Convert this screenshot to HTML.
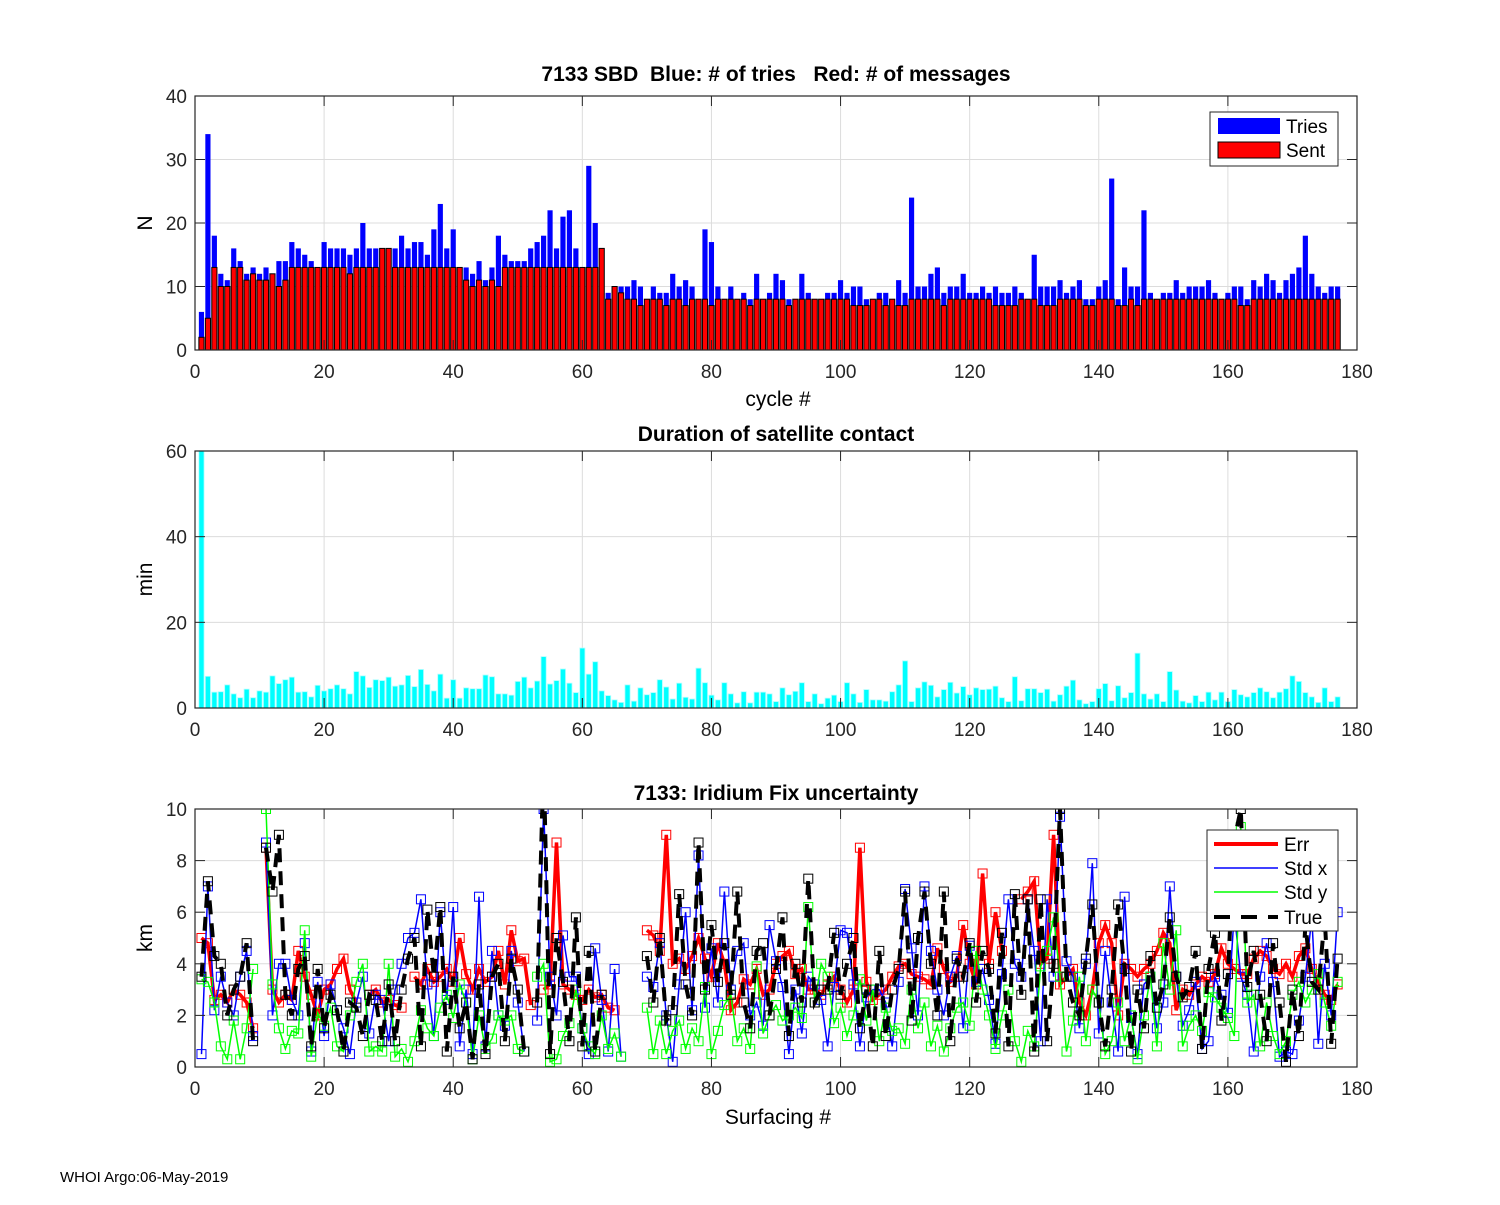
<!DOCTYPE html>
<html><head><meta charset="utf-8"><style>
body{margin:0;background:#fff;}
svg text{font-family:"Liberation Sans",Arial,sans-serif;white-space:pre;}
</style></head><body>
<svg id="fig" width="1500" height="1200" xmlns="http://www.w3.org/2000/svg">
<rect width="1500" height="1200" fill="#fff"/>
<g id="p1"></g>
<g id="p2"></g>
<g id="p3"></g>
<text x="60" y="1182" font-size="15">WHOI Argo:06-May-2019</text>
</svg>
<script>
const tries=[6,34,18,12,11,16,14,12,13,12,13,12,14,14,17,16,15,14,13,17,16,16,16,15,16,20,16,16,16,16,16,18,16,17,17,15,19,23,16,19,13,13,12,14,11,13,18,15,14,14,14,16,17,18,22,16,21,22,16,13,29,20,16,9,9,10,10,11,10,8,10,9,9,12,10,11,10,8,19,17,10,8,10,7,9,8,12,8,9,12,11,8,8,12,9,8,8,9,9,11,9,10,10,8,8,9,9,8,11,9,24,10,10,12,13,9,10,10,12,9,9,10,9,10,9,9,10,9,8,15,10,10,10,11,9,10,11,8,8,10,11,27,8,13,10,10,22,9,8,9,9,11,9,10,10,10,11,9,8,9,10,10,8,11,10,12,11,9,11,12,13,18,12,10,9,10,10];
const sent=[2,5,13,10,10,13,13,11,12,11,11,12,10,11,13,13,13,13,13,13,13,13,13,12,13,13,13,13,16,16,13,13,13,13,13,13,13,13,13,13,13,11,10,11,10,11,10,13,13,13,13,13,13,13,13,13,13,13,13,13,13,13,16,8,10,9,8,8,7,8,8,8,7,8,8,7,8,8,8,7,8,8,8,8,8,7,8,8,8,8,8,7,8,8,8,8,8,8,8,8,8,7,7,7,8,8,7,8,7,7,8,8,8,8,8,7,8,8,8,8,8,8,8,7,7,7,7,8,8,8,7,7,7,8,8,8,8,7,7,8,8,8,7,7,8,7,8,8,8,8,8,8,8,8,8,8,8,8,8,8,8,7,7,8,8,8,8,8,8,8,8,8,8,8,8,8,8];
const dur=[60,7.4,3.7,3.8,5.4,3.3,2.4,4.4,2.4,4,3.7,7.5,5.7,6.6,7.2,3.7,3.8,2.6,5.3,4,4.5,5.4,4.5,3.3,8.5,7.5,4.8,6.6,6.4,7.2,5.1,5.4,7.6,5,9,5.5,4,7.9,2.3,6.6,2.3,4.7,4.5,4.5,7.7,7.3,3.3,3.3,3,6.2,7.2,4.7,6.3,12,5.6,6.4,9.1,5.8,3.6,14,7.9,10.8,4,2.9,1.9,1.3,5.4,1.6,4.7,3.1,3.6,6.6,4.9,2.1,5.8,2.5,2.1,9.3,5.9,3,1.9,5.9,3.3,1.2,3.8,1.2,3.7,3.7,3.3,1.5,4.7,3.1,3.9,5.9,1.5,3.3,1,2.3,3,1.5,5.9,3.3,1.3,4.3,1.9,1.9,1.6,3.8,5.4,11,1.5,4.7,6.1,5.3,2.6,4.3,6,3.5,5,3.1,4.7,4.3,4.4,5.1,2.4,1.5,7.3,1.7,4.5,4.5,3.6,4.4,1.6,3.1,5.1,6.5,1.9,1,1.5,4.5,5.7,1.7,5.2,2.4,3.6,12.8,3.3,2.1,3.3,1.5,8.5,4.2,1.6,1.2,2.9,1.5,3.7,1.9,3.7,1.5,4.3,3.1,2.6,3.6,4.7,3.8,2.4,3.7,4.5,7.5,6.2,3.6,2.6,1.3,4.7,1.5,2.6];
const N=null;
const errKm=[5,4.8,2.6,2.8,2.5,3,2.8,2.5,1.5,N,8.5,3,2.5,2.8,2.6,4.5,3.5,2.8,2,3,3.2,3.8,4.2,3,2.5,N,2.8,3,2.5,2.6,2.4,2.3,N,3.5,3.2,3.8,3.3,3.5,3.8,3.3,5,3.6,3,3.8,3.3,3.5,4.5,3.2,5.3,4.1,4.2,2.4,N,3,3.2,8.7,3.2,3,2.8,2.6,3,2.7,2.8,2.3,2.2,N,N,N,N,5.3,5.1,4.5,9,4,4.2,3.8,4.3,5,4.2,3.5,4.8,4,2.2,2.5,3.4,3.2,3.8,2.8,3,4,4.3,4.5,3.6,3.8,3,3,2.8,3.2,3.5,3,2.5,3,8.5,3.3,2.6,2.8,3,3.5,3.9,4,3.6,3.5,3.4,3.2,4.6,3.8,3.3,3.5,5.5,4,3.2,7.5,4,6,4.5,N,N,6.5,6.8,7.2,4,4.2,9,3.2,3.5,3.8,2.5,2,3,4.8,5.5,4.8,2,4,3.8,3.5,3.8,4,4.5,5.2,4.8,2.2,3,2.8,3.2,3.5,3.3,3.6,4.6,4,3.8,3.6,3.6,4.2,4.5,4.3,3.8,3.6,4,3.5,4.3,4.6,3.8,3.3,2.8,2.6,3.2];
const stdX=[0.5,7,2.2,3.5,2.5,2,3.5,4.5,1.2,N,8.7,2,4,4,2.6,2,4.8,0.6,3.3,1.2,3.2,2.2,1.5,0.5,2.5,3.5,1.3,2.8,2.6,1,3,4,5,5.2,6.5,3.2,1.2,6,2.6,6.2,0.8,3,0.5,6.6,0.8,4.5,2,1.6,4.5,2.5,0.6,N,1.8,10,3.5,2,5.1,3.5,3.5,1.5,0.5,4.6,2.6,0.6,3.8,0.4,N,N,N,3.5,3.1,4.8,2,0.2,3.2,6,2.2,8.2,2.3,4.6,2.5,6.8,3,4.5,4.8,2,2.5,1.6,5.5,4.1,3.1,0.5,3,1.3,3.5,3.2,2.6,0.8,3.1,5.3,5.2,3.2,0.8,2.7,3,3,2.5,0.8,3.3,6.9,4.6,2,7,4.5,3,2,3.5,4.3,1.5,4.7,3.3,3.8,2.6,0.9,3.6,6.5,4,3.5,6.5,4.5,1,6.5,3.5,9.7,4.1,3.5,1.5,4,7.9,1.3,4.5,2.5,0.6,6.6,1.9,0.5,3.2,3.5,1.5,2.5,7,3.5,1.6,2.2,3.3,0.7,1,3.5,2.8,2.1,6,3.5,2.8,0.6,3.5,4.8,3.3,0.4,0.6,0.5,1.8,3.5,5.8,0.9,4,2,6];
const stdY=[3.4,3.3,2.5,0.8,0.3,1.8,0.3,1.5,3.8,N,10,3.2,1.5,0.7,1.4,1.3,5.3,0.4,2.1,1.6,2.3,0.8,0.6,2,3.3,4,0.6,0.8,0.6,4,0.4,0.7,0.2,1,2.2,1.5,1.2,2.3,2.8,1.9,3.2,2.5,0.3,2,0.7,1.1,2,1.8,2,0.7,0.6,N,3.5,4,0.2,0.3,1.2,1.7,3,1.5,0.8,0.5,2,0.7,1.3,0.4,N,N,N,2.3,0.5,1.8,0.5,1.4,1.8,0.7,1.5,1,3.1,0.5,1.4,2.4,2.8,1,1.5,0.7,3.9,1.3,2,2.4,1.8,2,2.3,1.9,6.2,2.5,4,3.5,1.7,2.3,1.2,2,3.4,1.8,3,1,2.3,1.4,1.5,0.9,3,1.5,2.5,0.8,1.6,0.6,1.5,2.3,2.5,1.6,4.5,3,2,0.7,2,3,1,0.2,1.4,0.8,3.9,4.5,5.8,3.5,0.6,1.8,3.5,1,3,2.5,0.5,1,2.5,1,2,0.3,2,3.5,0.8,4.8,3,5.3,0.8,1.6,2,1.4,2.9,2.7,2.3,1.9,1.2,9.3,2.5,2.8,0.8,2.5,1.2,0.5,1,2.8,3.3,2.5,3,3.6,2.5,1.6,3.3];
const trueKm=[3.5,7.2,4.3,4,2,3,3.5,4.8,1,N,8.5,6.8,9,2.8,2,3.8,4.3,0.8,3.8,1.5,2.8,2.2,0.6,2.5,2.3,1.2,2.8,2.6,1,3.2,1,3,4.2,5,0.8,6.1,3.5,6.2,0.6,3.5,1.5,2.5,0.3,3.2,0.5,3.5,4,1,4.2,3,0.6,N,2.5,12,0.5,5,3.3,1,5.8,0.8,4.5,0.6,2.8,N,N,N,N,N,N,4.3,2.5,5,1.8,2.2,6.7,3.2,2,8.7,3,5.5,3.3,4.8,2.8,6.8,2.5,1.5,4.5,4.8,2,3.8,5.8,1.2,4,2.5,7.3,2.5,3,3,5.2,2.8,4,5,1.5,3,0.8,4.5,1.2,3,3.8,6.8,1.8,5,6.8,4,2,6.8,1,4.2,3.5,4.8,2.5,4.5,3.8,1.3,5.2,0.8,6.7,2.8,6.5,0.6,6.5,1,4,10,3.5,2.5,2,4.2,6.3,2.5,0.8,3,6.3,3.8,0.6,3,1.5,4.3,2.3,3.2,5.8,3.5,2.7,3.1,4.5,0.7,3.8,5.2,1.8,3.6,8.8,10,3.1,4.5,2.8,1,4.8,2.5,0.2,3,1.2,5.5,3.3,3,5.8,0.9,4.2];
const xTicks=[0,20,40,60,80,100,120,140,160,180];
const yTicks1=[0,10,20,30,40];
const yTicks2=[0,20,40,60];
const yTicks3=[0,2,4,6,8,10];

const NS='http://www.w3.org/2000/svg';
function mk(parent,tag,attrs,txt){const e=document.createElementNS(NS,tag);for(const k in attrs)e.setAttribute(k,attrs[k]);if(txt!==undefined)e.textContent=txt;parent.appendChild(e);return e;}
const X0=195,X1=1357;
const sx=v=>X0+(v/180)*(X1-X0);
function axes(g,top,bot,ymax,yt,title,titleY,ylabel,xlabel,xlabY,clipId){
  const sy=v=>bot-(v/ymax)*(bot-top);
  for(const t of xTicks){const l=mk(g,'line',{x1:sx(t),x2:sx(t),y1:top,y2:bot,stroke:'#dcdcdc','stroke-width':1});}
  for(const t of yt){const l=mk(g,'line',{x1:X0,x2:X1,y1:sy(t),y2:sy(t),stroke:'#dcdcdc','stroke-width':1});}
  mk(g,'clipPath',{id:clipId}).appendChild(document.createElementNS(NS,'rect'));
  const cr=g.querySelector('#'+clipId+' rect');cr.setAttribute('x',X0);cr.setAttribute('y',top);cr.setAttribute('width',X1-X0);cr.setAttribute('height',bot-top);
  const tt=mk(g,'text',{x:(X0+X1)/2,y:titleY,'text-anchor':'middle','font-size':21,'font-weight':'bold'},title);
  
  const yl=mk(g,'text',{x:0,y:0,'text-anchor':'middle','font-size':21,transform:`translate(152,${(top+bot)/2}) rotate(-90)`},ylabel);
  
  if(xlabel){const xl=mk(g,'text',{x:(X0+X1)/2+2,y:xlabY,'text-anchor':'middle','font-size':21},xlabel);}
  return sy;
}
function frame(g,top,bot,ymax,yt){
  const sy=v=>bot-(v/ymax)*(bot-top);
  const r=mk(g,'rect',{x:X0,y:top,width:X1-X0,height:bot-top,fill:'none',stroke:'#262626','stroke-width':1.2});
  
  for(const t of xTicks){mk(g,'line',{x1:sx(t),x2:sx(t),y1:bot,y2:bot-10,stroke:'#262626'});mk(g,'line',{x1:sx(t),x2:sx(t),y1:top,y2:top+10,stroke:'#262626'});
    const tl=mk(g,'text',{x:sx(t),y:bot+28,'text-anchor':'middle','font-size':19,fill:'#262626'},String(t));}
  for(const t of yt){mk(g,'line',{x1:X0,x2:X0+10,y1:sy(t),y2:sy(t),stroke:'#262626'});mk(g,'line',{x1:X1,x2:X1-10,y1:sy(t),y2:sy(t),stroke:'#262626'});
    const tl=mk(g,'text',{x:X0-8,y:sy(t)+7,'text-anchor':'end','font-size':19,fill:'#262626'},String(t));}
}
// Panel 1
const g1=document.getElementById('p1');
const sy1=axes(g1,96,350,40,yTicks1,'7133 SBD  Blue: # of tries   Red: # of messages',81,'N','cycle #',406,'c1');
const bw=sx(0.8)-sx(0);
tries.forEach((v,i)=>{const b=mk(g1,'rect',{x:sx(i+1)-bw/2,y:sy1(v),width:bw,height:sy1(0)-sy1(v),fill:'#0000ff','clip-path':'url(#c1)'});
});
sent.forEach((v,i)=>{const b=mk(g1,'rect',{x:sx(i+1)-bw/2,y:sy1(v),width:bw,height:sy1(0)-sy1(v),fill:'#ff0000',stroke:'#000','stroke-width':1,'clip-path':'url(#c1)'});
});
frame(g1,96,350,40,yTicks1);
const lg1=mk(g1,'g',{});
mk(lg1,'rect',{x:1210,y:112,width:128,height:54,fill:'#fff',stroke:'#262626'});
mk(lg1,'rect',{x:1218,y:118,width:62,height:16,fill:'#0000ff'});
mk(lg1,'text',{x:1286,y:133,'font-size':19},'Tries');
mk(lg1,'rect',{x:1218,y:142,width:62,height:16,fill:'#ff0000',stroke:'#000'});
mk(lg1,'text',{x:1286,y:157,'font-size':19},'Sent');
// Panel 2
const g2=document.getElementById('p2');
const sy2=axes(g2,451,708,60,yTicks2,'Duration of satellite contact',441,'min',null,0,'c2');
dur.forEach((v,i)=>{const b=mk(g2,'rect',{x:sx(i+1)-bw/2,y:sy2(v),width:bw,height:sy2(0)-sy2(v),fill:'#00ffff',stroke:'#b0ffff','stroke-width':0.8,'clip-path':'url(#c2)'});
});
frame(g2,451,708,60,yTicks2);
// Panel 3
const g3=document.getElementById('p3');
const sy3=axes(g3,809,1067,10,yTicks3,'7133: Iridium Fix uncertainty',800,'km','Surfacing #',1124,'c3');
function series(arr,color,w,dash,name){
  const cg=mk(g3,'g',{'clip-path':'url(#c3)'});
  
  let d='',pen=false;
  arr.forEach((v,i)=>{if(v===null){pen=false;return;}d+=(pen?'L':'M')+sx(i+1).toFixed(1)+','+sy3(v).toFixed(1);pen=true;});
  const p=mk(cg,'path',{d:d,fill:'none',stroke:color,'stroke-width':w});
  if(dash)p.setAttribute('stroke-dasharray',dash);
  
  arr.forEach((v,i)=>{if(v===null)return;const m=mk(cg,'rect',{x:sx(i+1)-4.5,y:sy3(v)-4.5,width:9,height:9,fill:'none',stroke:color,'stroke-width':1});
    });
}
series(errKm,'#ff0000',3.5,null,'err');
series(stdX,'#0000ff',1.5,null,'std-x');
series(stdY,'#00ff00',1.5,null,'std-y');
series(trueKm,'#000000',4,'14,9','true');
frame(g3,809,1067,10,yTicks3);
const lg3=mk(g3,'g',{});
mk(lg3,'rect',{x:1207,y:830,width:131,height:101,fill:'#fff',stroke:'#262626'});
const le=[['Err','#ff0000',4,null,844],['Std x','#0000ff',1.5,null,868],['Std y','#00ff00',1.5,null,892],['True','#000',4,'16,11',917]];
le.forEach(e=>{const l=mk(lg3,'line',{x1:1214,x2:1278,y1:e[4],y2:e[4],stroke:e[1],'stroke-width':e[2]});if(e[3])l.setAttribute('stroke-dasharray',e[3]);
mk(lg3,'text',{x:1284,y:e[4]+7,'font-size':19},e[0]);});
</script>
</body></html>
